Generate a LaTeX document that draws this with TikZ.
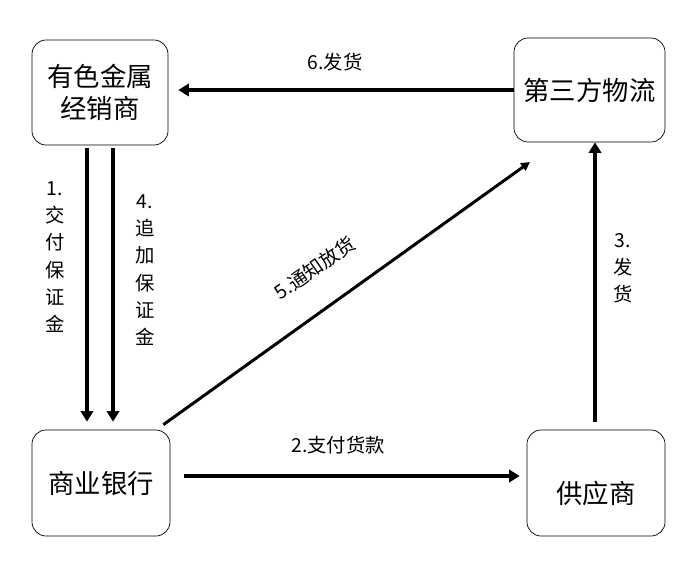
\documentclass[tikz,border=0pt]{standalone}
\usepackage{fontspec}
\setmainfont{Noto Sans CJK SC}
\usepackage{tikz}
\usetikzlibrary{arrows.meta,positioning}

\begin{document}
\begin{tikzpicture}[
    party/.style={draw, thin, rounded corners=8pt, align=center, font=\fontsize{15}{18}\selectfont},
    flow/.style={line width=2.8pt, -{Triangle[width=7pt,length=6pt]}},
    thinflow/.style={line width=1.7pt, -{Triangle[width=5pt,length=5pt]}},
    lbl/.style={font=\fontsize{11}{15.5}\selectfont, align=center}
  ]
  \useasboundingbox (0,0) rectangle (13.98,11.36);

  % Parties
  \node[party, minimum width=2.72cm, minimum height=2.10cm] (dealer) at (2.00,9.51) {有色金属\\经销商};
  \node[party, minimum width=3.02cm, minimum height=2.08cm] (logistics) at (11.79,9.56) {第三方物流};
  \node[party, minimum width=2.76cm, minimum height=2.12cm] (bank) at (2.02,1.70) {商业银行};
  \node[party, minimum width=2.76cm, minimum height=2.12cm,
        label={[font=\fontsize{15}{18}\selectfont, yshift=-0.2cm]center:供应商}] (supplier) at (11.92,1.70) {};
  \coordinate (notify) at (10.60,8.12);

  % Flows
  \draw[flow, shorten >=0.2cm] (logistics.west) -- (logistics.west -| dealer.east);
  \draw[flow, shorten <=0.06cm, shorten >=0.16cm] ([xshift=-0.26cm]dealer.south) -- ([xshift=-0.26cm]dealer.south |- bank.north);
  \draw[flow, shorten <=0.06cm, shorten >=0.16cm] ([xshift=0.26cm]dealer.south) -- ([xshift=0.26cm]dealer.south |- bank.north);
  \draw[thinflow] ([xshift=-0.14cm,yshift=0.1cm]bank.north east) -- (notify);
  \draw[flow, shorten <=0.28cm, shorten >=0.14cm] ([yshift=0.14cm]bank.east) -- ([yshift=0.14cm]bank.east -| supplier.west);
  \draw[flow, shorten <=0.16cm] ([xshift=-0.02cm]supplier.north) -- ([xshift=-0.02cm]supplier.north |- logistics.south);

  % Labels
  \node[lbl] (l6) at (6.70,10.12) {6.发货};
  \node[lbl] (l1) at (1.10,6.22) {1.\\交\\付\\保\\证\\金};
  \node[lbl] (l4) at (2.90,5.96) {4.\\追\\加\\保\\证\\金};
  \node[lbl, rotate=35] (l5) at (6.30,6.00) {5.通知放货};
  \node[lbl] (l2) at (6.76,2.46) {2.支付货款};
  \node[lbl] (l3) at (12.46,6.00) {3.\\发\\货};
\end{tikzpicture}
\end{document}
